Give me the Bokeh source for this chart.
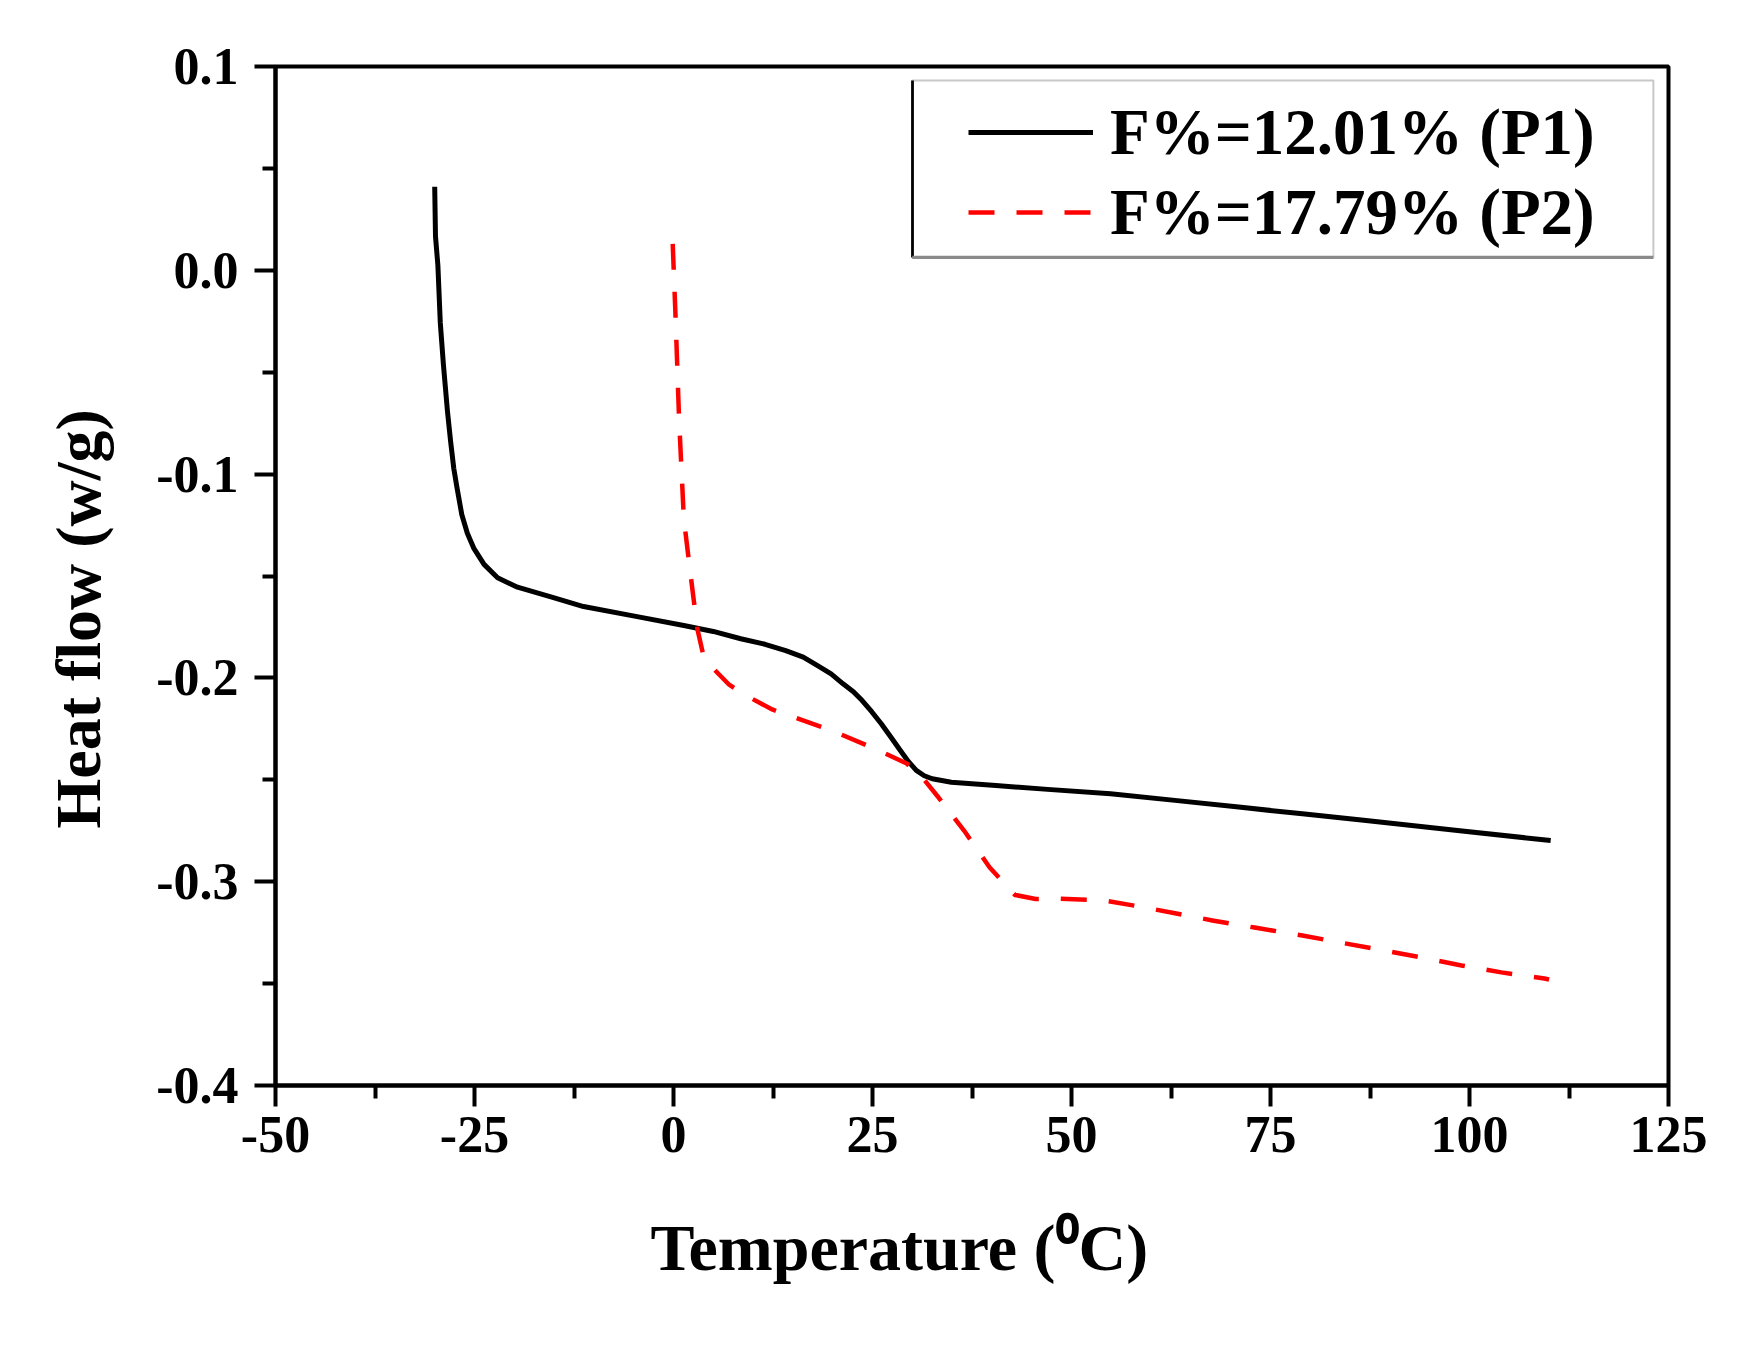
from bokeh.plotting import figure
from bokeh.models import (Range1d, FixedTicker, Legend, LegendItem, Title,
                          BoxAnnotation)
from bokeh.embed import file_html
from bokeh.resources import INLINE

# ---------------- data ----------------
p1_temp = [-30.0, -29.9, -29.6, -29.3, -28.9, -28.4, -28.0, -27.6, -27.2,
           -26.6, -25.9, -25.1, -23.8, -22.1, -19.6, -15.4, -11.3, -4.9,
           1.3, 5.0, 8.45, 11.5, 14.1, 16.3, 18.1, 19.8, 21.3, 22.6, 23.7,
           24.9, 26.1, 27.3, 28.5, 29.5, 30.5, 31.5, 32.5, 34.9, 40.5, 47.0,
           54.9, 63.0, 71.0, 79.0, 87.0, 98.5, 110.2]
p1_flow = [0.041, 0.0166, 0.0024, -0.0256, -0.0465, -0.069, -0.084, -0.0973,
           -0.1066, -0.1198, -0.129, -0.1363, -0.1443, -0.1509, -0.1555,
           -0.1602, -0.165, -0.1697, -0.1743, -0.1772, -0.1808, -0.1835,
           -0.1866, -0.1898, -0.194, -0.198, -0.2029, -0.2068, -0.2111,
           -0.2166, -0.2225, -0.229, -0.2356, -0.241, -0.2454, -0.248,
           -0.2495, -0.2512, -0.2528, -0.2547, -0.2569, -0.2601, -0.2634,
           -0.2667, -0.27, -0.2749, -0.2798]

p2_temp = [-0.1, 0.25, 0.7, 1.3, 2.1, 3.0, 3.7, 4.9, 6.9, 8.8, 12.4, 16.0,
           20.0, 25.2, 29.3, 31.5, 33.3, 36.5, 39.7, 42.9, 45.5, 48.5, 54.1,
           59.0, 63.0, 67.7, 73.0, 79.0, 84.0, 89.3, 94.0, 99.0, 104.0,
           109.4, 110.0]
p2_flow = [0.013, -0.022, -0.073, -0.122, -0.148, -0.176, -0.188, -0.195,
           -0.203, -0.208, -0.2155, -0.2205, -0.226, -0.2346, -0.242, -0.25,
           -0.2587, -0.2749, -0.2929, -0.3065, -0.3085, -0.3083, -0.3092,
           -0.3125, -0.3155, -0.319, -0.3225, -0.3264, -0.33, -0.3338,
           -0.3372, -0.3411, -0.3445, -0.3475, -0.348]

series_names = ["F%=12.01% (P1)", "F%=17.79% (P2)"]

x_ticks = [-50, -25, 0, 25, 50, 75, 100, 125]
x_tick_labels = ["-50", "-25", "0", "25", "50", "75", "100", "125"]
y_ticks = [-0.4, -0.3, -0.2, -0.1, 0.0, 0.1]
y_tick_labels = ["-0.4", "-0.3", "-0.2", "-0.1", "0.0", "0.1"]

x_label = "Temperature (\u2070C)"
y_label = "Heat flow (w/g)"

# ---------------- figure ----------------
FONT = "Liberation Serif"

p = figure(frame_width=1393, frame_height=1019,
           min_border_left=275, min_border_right=60,
           min_border_top=66, min_border_bottom=230,
           x_range=Range1d(-50, 125), y_range=Range1d(-0.4, 0.1),
           output_backend="svg", toolbar_location=None,
           background_fill_color="white", border_fill_color="white")

p.xgrid.visible = False
p.ygrid.visible = False
p.outline_line_color = "black"
p.outline_line_width = 4

x_minor = [(a + b) / 2 for a, b in zip(x_ticks[:-1], x_ticks[1:])]
y_minor = [(a + b) / 2 for a, b in zip(y_ticks[:-1], y_ticks[1:])]
p.xaxis.ticker = FixedTicker(ticks=x_ticks, minor_ticks=x_minor)
p.yaxis.ticker = FixedTicker(ticks=y_ticks, minor_ticks=y_minor)
p.xaxis.major_label_overrides = dict(zip(x_ticks, x_tick_labels))
p.yaxis.major_label_overrides = dict(zip(y_ticks, y_tick_labels))

for ax in (p.xaxis, p.yaxis):
    ax.axis_line_color = "black"
    ax.axis_line_width = 4
    ax.major_tick_line_color = "black"
    ax.major_tick_line_width = 4
    ax.minor_tick_line_color = "black"
    ax.minor_tick_line_width = 4
    ax.major_tick_in = 0
    ax.major_tick_out = 21
    ax.minor_tick_in = 0
    ax.minor_tick_out = 13
    ax.major_label_text_font = FONT
    ax.major_label_text_font_style = "bold"
    ax.major_label_text_font_size = "52px"
    ax.major_label_text_color = "black"
p.xaxis.major_label_standoff = 10
p.yaxis.major_label_standoff = 16

r1 = p.line(p1_temp, p1_flow, line_color="black", line_width=5,
            line_join="round")
r2 = p.line(p2_temp, p2_flow, line_color="#ff0000", line_width=4.5,
            line_dash="26 22", line_join="round")

# legend frame (light border, dark left edge, grey bottom shadow)
L_LEFT, L_RIGHT, L_TOP, L_BOTTOM = 30.0, 123.1, 0.0931, 0.0063
p.add_layout(BoxAnnotation(left=L_LEFT, right=L_RIGHT, top=L_TOP,
                           bottom=L_BOTTOM, fill_alpha=0,
                           line_color="#c8c8c8", line_alpha=1,
                           line_width=2))
p.add_layout(BoxAnnotation(left=L_LEFT - 0.15, right=L_LEFT + 0.2,
                           top=L_TOP, bottom=L_BOTTOM,
                           fill_color="black", fill_alpha=1,
                           line_alpha=0))
p.add_layout(BoxAnnotation(left=L_LEFT, right=L_RIGHT,
                           top=L_BOTTOM + 0.0008, bottom=L_BOTTOM - 0.0008,
                           fill_color="#8a8a8a", fill_alpha=1,
                           line_alpha=0))

legend = Legend(items=[LegendItem(label=series_names[0], renderers=[r1]),
                       LegendItem(label=series_names[1], renderers=[r2])],
                location=(685, 825), margin=0, padding=8, spacing=0,
                label_height=80, glyph_width=125, glyph_height=40,
                label_standoff=17, border_line_alpha=0,
                background_fill_alpha=0,
                label_text_font=FONT, label_text_font_style="bold",
                label_text_font_size="65px", label_text_color="black")
p.add_layout(legend)

# axis titles
xt = Title(text=x_label, align="left", offset=375, standoff=108,
           text_font=FONT, text_font_style="bold", text_font_size="66px",
           text_color="black")
p.add_layout(xt, "below")
yt = Title(text=y_label, align="left", offset=257, standoff=80,
           text_font=FONT, text_font_style="bold", text_font_size="64px",
           text_color="black")
p.add_layout(yt, "left")

open("out.html", "w").write(file_html(p, INLINE))
